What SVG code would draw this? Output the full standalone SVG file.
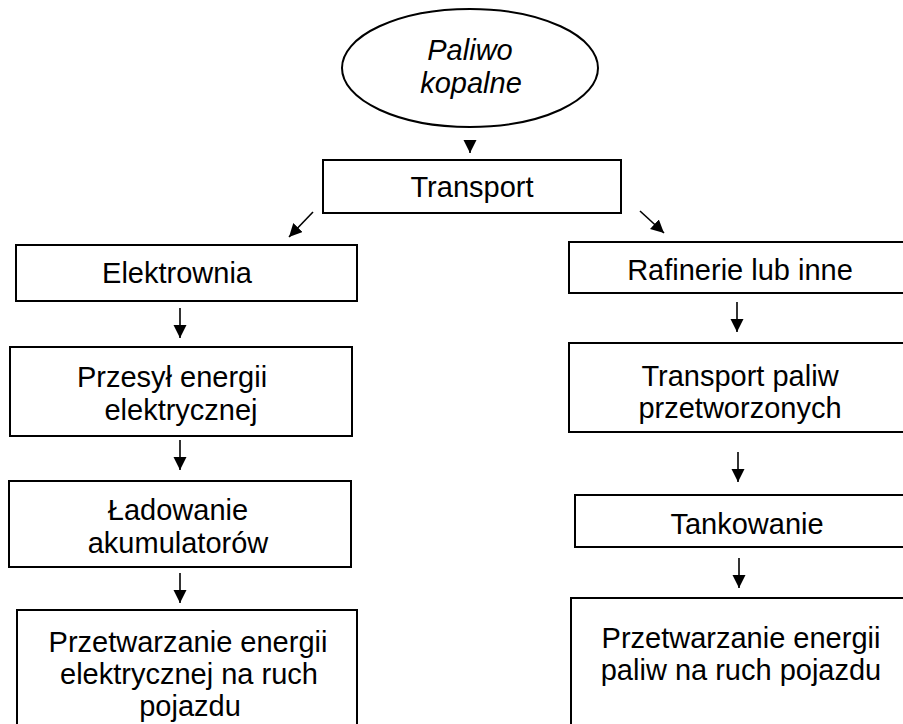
<svg xmlns="http://www.w3.org/2000/svg" width="903" height="724" viewBox="0 0 903 724">
<defs>
<marker id="ah" markerUnits="userSpaceOnUse" markerWidth="14" markerHeight="14" refX="13" refY="6.5" orient="auto">
<path d="M0,0 L13,6.5 L0,13 z" fill="#000"/>
</marker>
<style>
.box{fill:#fff;stroke:#000;stroke-width:2}
.t{font-family:"Liberation Sans",Arial,sans-serif;font-size:29px;fill:#000;text-anchor:middle}
.it{font-style:italic}
.c{stroke:#000;stroke-width:1.6;fill:none;marker-end:url(#ah)}
</style>
</defs>
<rect width="903" height="724" fill="#fff"/>
<g id="n-paliwo">
<ellipse class="box" cx="470" cy="68" rx="128" ry="59"/>
<text class="t it" x="470" y="60">Paliwo</text>
<text class="t it" x="471" y="93">kopalne</text>
</g>
<g id="n-transport">
<rect class="box" x="323" y="160" width="298" height="53"/>
<text class="t" x="472" y="197">Transport</text>
</g>
<g id="n-elektrownia">
<rect class="box" x="16" y="245" width="341" height="56"/>
<text class="t" x="177" y="283">Elektrownia</text>
</g>
<g id="n-przesyl">
<rect class="box" x="10" y="347" width="342" height="89"/>
<text class="t" x="172" y="387">Przesył energii</text>
<text class="t" x="181" y="420">elektrycznej</text>
</g>
<g id="n-ladowanie">
<rect class="box" x="9" y="481" width="342" height="86"/>
<text class="t" x="178" y="520">Ładowanie</text>
<text class="t" x="178" y="553">akumulatorów</text>
</g>
<g id="n-przetw-el">
<rect class="box" x="17" y="610" width="340" height="130"/>
<text class="t" x="188" y="652">Przetwarzanie energii</text>
<text class="t" x="189" y="684">elektrycznej na ruch</text>
<text class="t" x="190" y="716">pojazdu</text>
</g>
<g id="n-rafinerie">
<rect class="box" x="569" y="242" width="360" height="51"/>
<text class="t" x="740" y="280">Rafinerie lub inne</text>
</g>
<g id="n-transport-paliw">
<rect class="box" x="569" y="343" width="360" height="89"/>
<text class="t" x="740" y="386">Transport paliw</text>
<text class="t" x="740" y="418">przetworzonych</text>
</g>
<g id="n-tankowanie">
<rect class="box" x="575" y="495" width="360" height="52"/>
<text class="t" x="747" y="534">Tankowanie</text>
</g>
<g id="n-przetw-pal">
<rect class="box" x="571" y="598" width="360" height="140"/>
<text class="t" x="741" y="648">Przetwarzanie energii</text>
<text class="t" x="741" y="680">paliw na ruch pojazdu</text>
</g>
<g id="connectors">
<line class="c" x1="470" y1="140" x2="470" y2="153"/>
<line class="c" x1="313" y1="212" x2="289" y2="237"/>
<line class="c" x1="640" y1="211" x2="664" y2="233"/>
<line class="c" x1="180" y1="308" x2="180" y2="338"/>
<line class="c" x1="180" y1="440" x2="180" y2="470"/>
<line class="c" x1="180" y1="573" x2="180" y2="603"/>
<line class="c" x1="737" y1="302" x2="737" y2="332"/>
<line class="c" x1="738" y1="452" x2="738" y2="482"/>
<line class="c" x1="739" y1="558" x2="739" y2="588"/>
</g>
</svg>
